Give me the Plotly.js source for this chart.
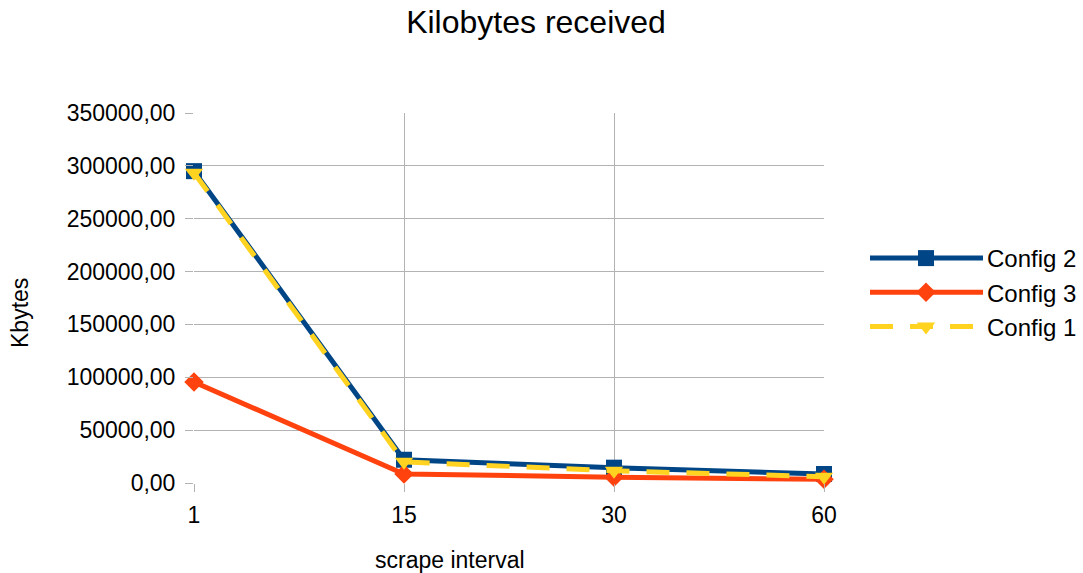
<!DOCTYPE html>
<html>
<head>
<meta charset="utf-8">
<script src="https://cdn.plot.ly/plotly-3.0.1.min.js"></script>
<style>html,body{margin:0;padding:0;background:#fff;}#chart{width:1083px;height:573px;}</style>
</head>
<body>
<div id="chart"></div>
<script>
const categories = ["1", "15", "30", "60"];
const config2 = [295000, 22000, 14500, 8500];
const config3 = [95500, 8500, 5500, 3500];
const config1 = [293500, 20000, 11500, 6000];
const tickVals = [0, 50000, 100000, 150000, 200000, 250000, 300000, 350000];

const FONT = "Liberation Sans, Arial, sans-serif";

const traces = [
  {x: categories, y: config2, name: "Config 2", type: "scatter", mode: "lines+markers",
   line: {color: "#004586", width: 5}, marker: {symbol: "square", size: 16, color: "#004586"}, cliponaxis: false},
  {x: categories, y: config3, name: "Config 3", type: "scatter", mode: "lines+markers",
   line: {color: "#ff420e", width: 5}, marker: {symbol: "diamond", size: 15, color: "#ff420e"}, cliponaxis: false},
  {x: categories, y: config1, name: "Config 1", type: "scatter", mode: "lines+markers",
   line: {color: "#ffd320", width: 5, dash: "23px,17px"}, marker: {symbol: "triangle-down", size: 16, color: "#ffd320"}, cliponaxis: false}
];

const layout = {
  width: 1083, height: 573,
  paper_bgcolor: "#ffffff", plot_bgcolor: "#ffffff",
  font: {family: FONT, size: 23, color: "#000000"},
  separators: ",.",
  margin: {l: 194, r: 259, t: 113, b: 90, pad: 0, autoexpand: false},
  title: {text: "Kilobytes received", font: {family: FONT, size: 32, color: "#000000"},
          x: 536 / 1083, xref: "container", xanchor: "center", y: 1 - 22 / 573, yref: "container", yanchor: "middle"},
  xaxis: {type: "category", range: [0, 3], showgrid: true, gridcolor: "#b3b3b3", gridwidth: 1,
          ticks: "outside", ticklen: 8, tickcolor: "#b3b3b3", zeroline: false, showline: false,
          ticklabelstandoff: 3, tickfont: {family: FONT, size: 23}, fixedrange: true},
  yaxis: {range: [0, 350000], tickvals: tickVals, tickformat: ".2f", showgrid: true, gridcolor: "#b3b3b3", gridwidth: 1,
          ticks: "outside", ticklen: 8, tickcolor: "#b3b3b3", zeroline: false, showline: false,
          ticklabelstandoff: 5, tickfont: {family: FONT, size: 23}, fixedrange: true},
  showlegend: true,
  legend: {x: (865 - 194) / 630, xanchor: "left", y: (483 - 236) / 370, yanchor: "top",
           font: {family: FONT, size: 24}, itemwidth: 112, bgcolor: "rgba(0,0,0,0)"},
  annotations: [
    {text: "scrape interval", xref: "paper", yref: "paper", x: (450 - 194) / 630, y: -(560 - 483) / 370,
     showarrow: false, xanchor: "center", yanchor: "middle", font: {family: FONT, size: 23}},
    {text: "Kbytes", xref: "paper", yref: "paper", x: (20 - 194) / 630, y: (483 - 313) / 370,
     showarrow: false, textangle: -90, xanchor: "center", yanchor: "middle", font: {family: FONT, size: 23}}
  ]
};

Plotly.newPlot("chart", traces, layout, {displayModeBar: false, staticPlot: true}).then(function (gd) {
  // lengthen legend line samples to match the reference
  gd.querySelectorAll(".legend .traces").forEach(function (t) {
    t.querySelectorAll(".legendlines path").forEach(function (p) { p.setAttribute("d", "M5,0h113"); });
    t.querySelectorAll(".legendpoints path").forEach(function (p) { p.setAttribute("transform", "translate(61,0)"); });
  });
});
</script>
</body>
</html>
